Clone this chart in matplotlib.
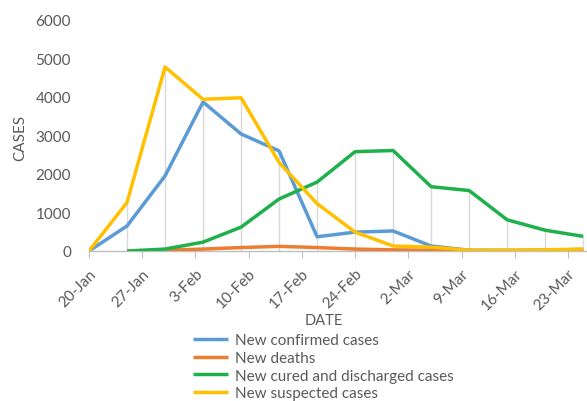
import numpy as np
import matplotlib
matplotlib.use("Agg")
import matplotlib.pyplot as plt

plt.rcParams['font.family'] = ['Lato', 'DejaVu Sans']

dates = np.array(['2020-01-20', '2020-01-25', '2020-01-30', '2020-02-04', '2020-02-09',
                  '2020-02-14', '2020-02-19', '2020-02-24', '2020-02-29', '2020-03-05',
                  '2020-03-10', '2020-03-15', '2020-03-20', '2020-03-25'], dtype='datetime64[D]')
confirmed = [0, 650, 1950, 3870, 3040, 2600, 370, 490, 520, 130, 20, 15, 25, 40]
deaths = [np.nan, np.nan, 20, 50, 90, 120, 90, 50, 30, 20, 10, 10, 5, 5]
cured = [np.nan, 0, 50, 230, 620, 1350, 1790, 2580, 2610, 1670, 1570, 810, 540, 380]
suspected = [0, 1260, 4780, 3940, 3980, 2300, 1230, 490, 130, 100, 20, 20, 30, 50]

series_labels = ['New confirmed cases', 'New deaths',
                 'New cured and discharged cases', 'New suspected cases']
tick_dates = np.array(['2020-01-20', '2020-01-27', '2020-02-03', '2020-02-10', '2020-02-17',
                       '2020-02-24', '2020-03-02', '2020-03-09', '2020-03-16', '2020-03-23'],
                      dtype='datetime64[D]')
tick_labels = ['20-Jan', '27-Jan', '3-Feb', '10-Feb', '17-Feb', '24-Feb',
               '2-Mar', '9-Mar', '16-Mar', '23-Mar']

colors = ['#5B9BD5', '#ED7D31', '#1DB04B', '#FFC000']
gray = '#595959'
fs = 11

W, H = 587, 402
fig = plt.figure(figsize=(W / 100, H / 100), dpi=100)
ax = fig.add_axes([89 / W, (H - 252) / H, (W - 89) / W, (252 - 21) / H])

# drop lines
all_series = np.array([confirmed, deaths, cured, suspected], dtype=float)
tops = np.nanmax(all_series, axis=0)
ax.vlines(dates, 0, tops, color='#D9D9D9', lw=1.0, zorder=1)

lines = []
for vals, c, lab in zip([confirmed, deaths, cured, suspected], colors, series_labels):
    l, = ax.plot(dates, vals, color=c, lw=2.5, label=lab, zorder=3, solid_capstyle='butt')
    lines.append(l)

ax.set_ylim(0, 6000)
ax.set_yticks(np.arange(0, 6001, 1000))
ax.set_xlim(np.datetime64('2020-01-20'), np.datetime64('2020-03-25') + np.timedelta64(12, 'h'))
ax.set_xticks(tick_dates)
ax.set_xticklabels(tick_labels, rotation=45, ha='right', rotation_mode='anchor')

for s in ['top', 'right', 'left']:
    ax.spines[s].set_visible(False)
ax.spines['bottom'].set_color('#BFBFBF')
ax.spines['bottom'].set_linewidth(1.0)
ax.tick_params(axis='y', length=0, pad=13, labelsize=fs, labelcolor=gray)
ax.tick_params(axis='x', length=5, color='#BFBFBF', pad=6, labelsize=fs, labelcolor=gray)

fig.text(20 / W, 1 - 138 / H, 'CASES', rotation=90, ha='center', va='center',
         fontsize=fs, color=gray)
fig.text(324 / W, 1 - 321 / H, 'DATE', ha='center', va='center', fontsize=10.5, color=gray)

leg = fig.legend(handles=lines, loc='upper left', bbox_to_anchor=(193 / W, 1 - 334.5 / H),
                 frameon=False, fontsize=fs, handlelength=2.3, handletextpad=0.45,
                 labelspacing=0.24, borderpad=0, borderaxespad=0)
for t in leg.get_texts():
    t.set_color(gray)

fig.savefig('out.png', dpi=100)
